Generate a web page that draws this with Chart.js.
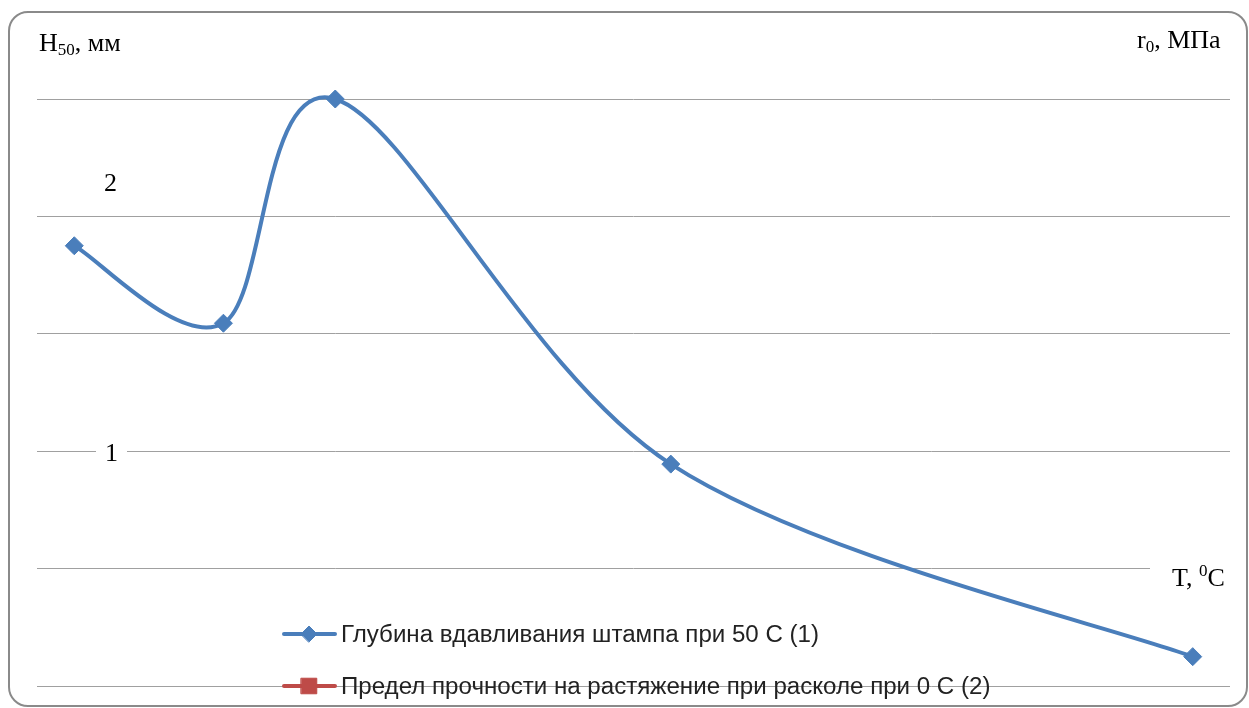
<!DOCTYPE html>
<html>
<head>
<meta charset="utf-8">
<script src="https://cdn.jsdelivr.net/npm/chart.js@4.4.1/dist/chart.umd.min.js"></script>
<style>
  html, body { margin:0; padding:0; background:#fff; }
  #wrap { position:relative; width:1249px; height:708px; overflow:hidden; }
  #frame { position:absolute; left:8px; top:11px; width:1236px; height:692px; border:2px solid #8a8a8a; border-radius:20px; pointer-events:none; }
  canvas { position:absolute; left:0; top:0; }
  .lbl { position:absolute; font-family:"Liberation Serif","Times New Roman",serif; font-size:26px; line-height:26px; color:#000; white-space:nowrap; }
  .lbl sub { font-size:17px; vertical-align:-4px; line-height:0; }
  .lbl sup { font-size:17px; vertical-align:10px; line-height:0; }
</style>
</head>
<body>
<div id="wrap">
  <canvas id="c" width="1249" height="708"></canvas>
  <div id="frame"></div>
  <div class="lbl" style="left:39px;top:30px;">H<sub>50</sub>, мм</div>
  <div class="lbl" style="left:104px;top:170px;">2</div>
  <div class="lbl" style="left:96px;top:440px;padding:0 9px;background:#fff;">1</div>
  <div class="lbl" style="left:1137px;top:27px;">r<sub>0</sub>, МПа</div>
  <div class="lbl" style="left:1150px;top:565px;padding-left:22px;padding-right:20px;background:#fff;">T, <sup>0</sup>C</div>
</div>
<script>
// ---- data ----
const temperatures = [-20, 0, 15, 60, 130];
const depthValues = [3.75, 3.09, 5.0, 1.89, 0.25];
const strengthValues = [];
const seriesLabels = [
  'Глубина вдавливания штампа при 50 С (1)',
  'Предел прочности на растяжение при расколе при 0 С (2)'
];
const yTicks = [0, 1, 2, 3, 4, 5];

// Excel-like (uniform Catmull-Rom) smoothing of the line's bezier control points
const excelSmoothPlugin = {
  id: 'excelSmooth',
  beforeDatasetDraw(chart, args) {
    const meta = args.meta;
    if (meta.type !== 'line' || !meta.dataset) return;
    const line = meta.dataset;
    const pts = meta.data.filter(p => !p.skip);
    if (pts.length < 2) return;
    if (typeof line.updateControlPoints === 'function') {
      line.updateControlPoints(chart.chartArea, meta.iScale ? meta.iScale.axis : 'x');
    }
    for (let i = 0; i < pts.length; i++) {
      const p = pts[i];
      const prev = pts[i - 1] || p;
      const next = pts[i + 1] || p;
      const dx = (next.x - prev.x) / 6;
      const dy = (next.y - prev.y) / 6;
      p.cp1x = p.x - dx; p.cp1y = p.y - dy;
      p.cp2x = p.x + dx; p.cp2y = p.y + dy;
    }
  }
};

const legendPlugin = {
  id: 'customLegend',
  afterDraw(chart) {
    const ctx = chart.ctx;
    const ds = chart.data.datasets;
    ctx.save();
    let size = 20;
    ctx.font = size + 'px "Liberation Sans", Arial, sans-serif';
    const w = ctx.measureText(ds[0].label).width;
    size = 20 * 478 / w;
    ctx.font = size.toFixed(2) + 'px "Liberation Sans", Arial, sans-serif';
    ds.forEach((d, i) => {
      const y = 634 + i * 52;
      ctx.strokeStyle = d.borderColor;
      ctx.lineWidth = 4;
      ctx.lineCap = 'round';
      ctx.beginPath();
      ctx.moveTo(284, y);
      ctx.lineTo(335, y);
      ctx.stroke();
      ctx.fillStyle = d.backgroundColor;
      ctx.strokeStyle = d.borderColor;
      ctx.lineWidth = 1;
      Chart.helpers.drawPoint(ctx, { pointStyle: d.pointStyle, radius: d.legendRadius, borderWidth: 1, rotation: 0 }, 309, y);
      ctx.fillStyle = '#222';
      ctx.textBaseline = 'middle';
      ctx.textAlign = 'left';
      ctx.fillText(d.label, 341, y + 1);
    });
    ctx.restore();
  }
};

new Chart(document.getElementById('c'), {
  type: 'line',
  data: {
    datasets: [
      {
        label: seriesLabels[0],
        data: temperatures.map((t, i) => ({ x: t, y: depthValues[i] })),
        borderColor: '#4A7EBB',
        backgroundColor: '#4A7EBB',
        borderWidth: 4,
        pointStyle: 'rectRot',
        pointRadius: 9,
        pointBorderWidth: 1,
        legendRadius: 8,
        tension: 0.4,
        capBezierPoints: false,
        clip: false
      },
      {
        label: seriesLabels[1],
        data: strengthValues,
        borderColor: '#BE4B48',
        backgroundColor: '#BE4B48',
        borderWidth: 4,
        pointStyle: 'rect',
        pointRadius: 7,
        legendRadius: 11,
        clip: false
      }
    ]
  },
  options: {
    responsive: false,
    animation: false,
    devicePixelRatio: 1,
    layout: { padding: { left: 37, right: 19, top: 99, bottom: 22 } },
    plugins: { legend: { display: false }, tooltip: { enabled: false } },
    scales: {
      x: {
        type: 'linear', min: -25, max: 135,
        display: false
      },
      y: {
        min: yTicks[0], max: yTicks[yTicks.length - 1],
        afterBuildTicks: (axis) => { axis.ticks = yTicks.map(v => ({ value: v })); },
        grid: { color: '#a0a0a0', lineWidth: 1, drawTicks: false },
        border: { display: false },
        ticks: { display: false }
      }
    }
  },
  plugins: [excelSmoothPlugin, legendPlugin]
});
</script>
</body>
</html>
